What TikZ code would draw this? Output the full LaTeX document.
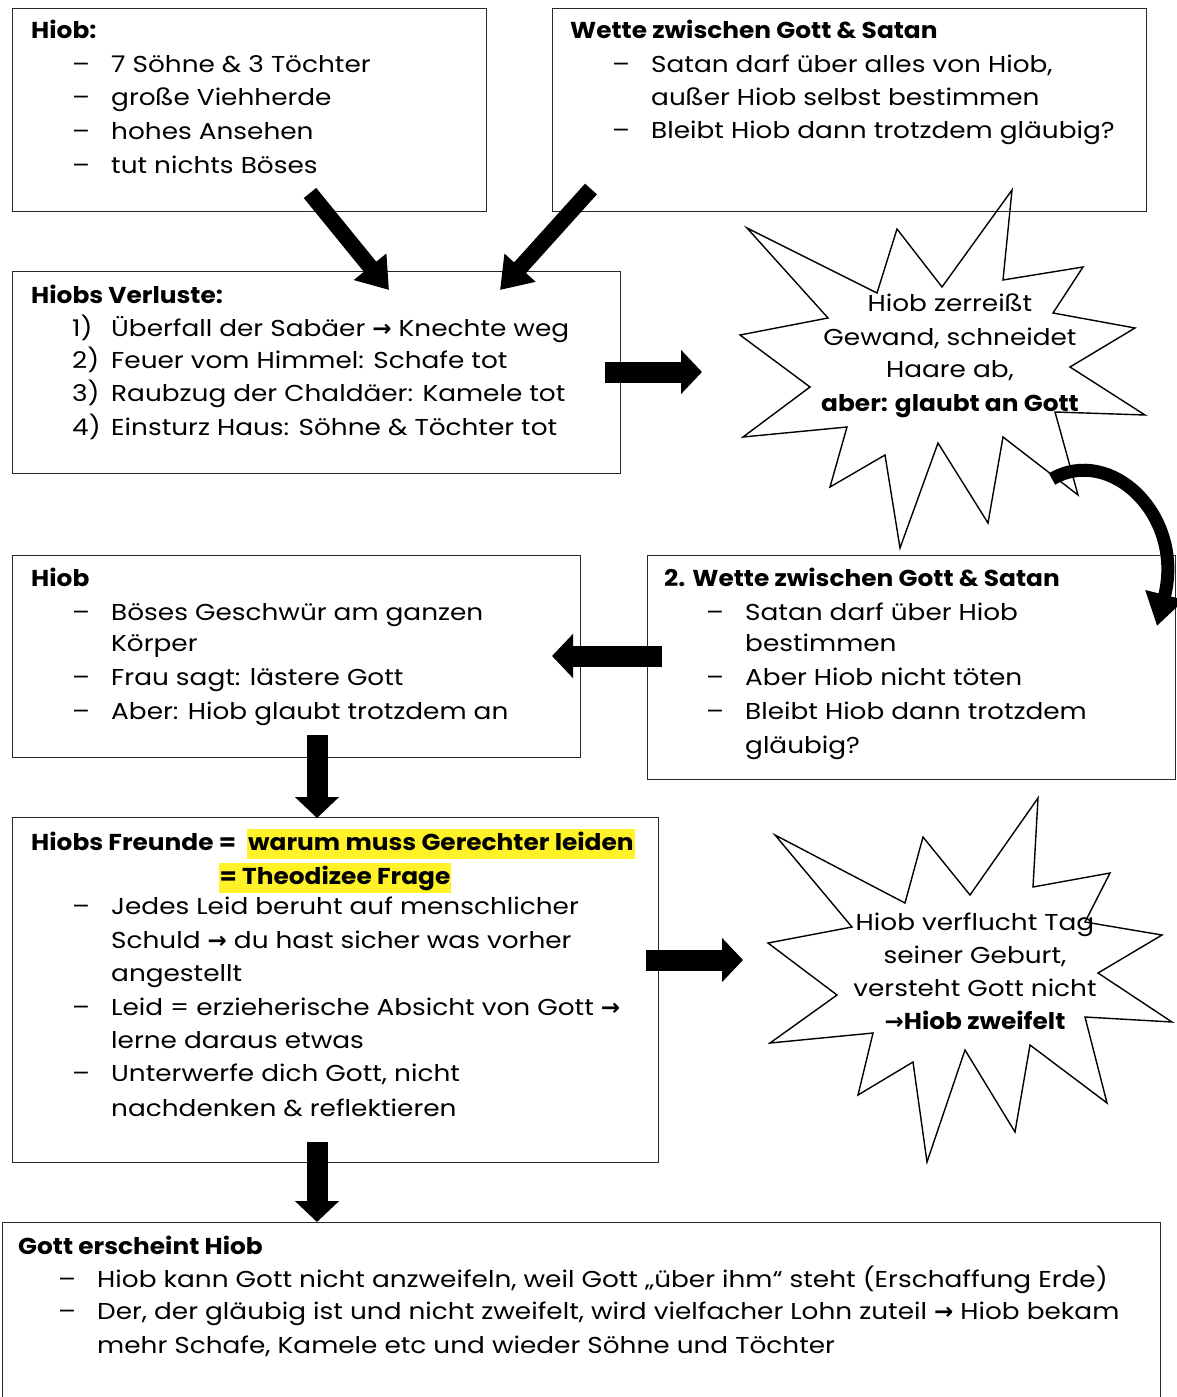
\documentclass[tikz,border=0pt]{standalone}
\usepackage{fontspec}
\setmainfont{Poppins}[UprightFeatures={FakeStretch=1.145},BoldFeatures={FakeStretch=1.08}]
\newfontfamily\arrowfont{DejaVu Sans}[UprightFeatures={FakeStretch=1.1}]
\usetikzlibrary{arrows.meta}
\definecolor{hl}{RGB}{255,242,40}
\definecolor{frame}{RGB}{40,40,40}
\newcommand\ar{{\arrowfont\bfseries →}}
\begin{document}
\begin{tikzpicture}[x=1pt,y=-1pt,
  box/.style={draw=frame,line width=1.4pt,inner sep=0pt,anchor=north west},
  txt/.style={anchor=base west,inner sep=0pt,font=\fontsize{23}{28}\selectfont},
  ctxt/.style={anchor=base,inner sep=0pt,font=\fontsize{23}{28}\selectfont},
  btxt/.style={txt,font=\fontsize{23}{28}\selectfont\bfseries},
  hltxt/.style={anchor=base west,fill=hl,inner xsep=1pt,inner ysep=3pt,text height=18pt,text depth=6pt,font=\fontsize{23}{28}\selectfont\bfseries},
  starshape/.style={draw=black,line width=1.4pt,line join=miter},
  blk/.style={line width=21pt,-{Triangle[length=21pt,width=43pt]}},
  diag/.style={line width=16pt,-{Triangle[length=30pt,width=40pt]}},
]
\useasboundingbox (0,0) rectangle (1177,1397);

% ---------- boxes ----------
\node[box,minimum width=474pt,minimum height=203pt] (b1) at (12,8) {};
\node[box,minimum width=594pt,minimum height=203pt] (b2) at (552,8) {};
\node[box,minimum width=608pt,minimum height=202pt] (b3) at (12,271) {};
\node[box,minimum width=568pt,minimum height=202pt] (b4) at (12,555) {};
\node[box,minimum width=528pt,minimum height=224pt] (b5) at (647,555) {};
\node[box,minimum width=646pt,minimum height=345pt] (b6) at (12,817) {};
\node[box,minimum width=1158pt,minimum height=190pt] (b7) at (2,1222) {};

% ---------- stars ----------
\draw[starshape] (747,228) -- (877,293) -- (897,229) -- (942,287) -- (1012,190) -- (1003,280)
  -- (1083,267) -- (1053,313) -- (1135,328) -- (1070,367) -- (1145,415) -- (1055,412)
  -- (1078,495) -- (1003,437) -- (988,523) -- (938,443) -- (900,548) -- (885,455)
  -- (830,487) -- (847,427) -- (743,437) -- (810,387) -- (740,335) -- (828,318) -- cycle;
\draw[starshape] (775,835) -- (905,903) -- (923,837) -- (970,895) -- (1038,798) -- (1033,887)
  -- (1110,873) -- (1085,922) -- (1162,935) -- (1098,973) -- (1172,1022) -- (1085,1017)
  -- (1107,1103) -- (1030,1045) -- (1015,1132) -- (965,1050) -- (927,1162) -- (913,1062)
  -- (858,1095) -- (873,1033) -- (770,1043) -- (837,995) -- (768,943) -- (852,927) -- cycle;

% ---------- box 1 ----------
\node[btxt] (t1) at (31,39) {Hiob:};
\node[txt] (t1a) at (72,72) {–};  \node[txt] (t1b) at (111,72) {7 Söhne \& 3 Töchter};
\node[txt] (t1c) at (72,105) {–}; \node[txt] (t1d) at (111,105) {große Viehherde};
\node[txt] (t1e) at (72,139) {–}; \node[txt] (t1f) at (111,139) {hohes Ansehen};
\node[txt] (t1g) at (72,173) {–}; \node[txt] (t1h) at (111,173) {tut nichts Böses};

% ---------- box 2 ----------
\node[btxt] (t2) at (570,39) {Wette zwischen Gott \& Satan};
\node[txt] (t2a) at (612,72) {–};  \node[txt] (t2b) at (651,72) {Satan darf über alles von Hiob,};
\node[txt] (t2c) at (651,105) {außer Hiob selbst bestimmen};
\node[txt] (t2d) at (612,138) {–}; \node[txt] (t2e) at (651,138) {Bleibt Hiob dann trotzdem gläubig?};

% ---------- box 3 ----------
\node[btxt] (t3) at (31,303) {Hiobs Verluste:};
\node[txt] (t3a) at (72,336) {1)}; \node[txt] (t3b) at (111,336) {Überfall der Sabäer \ar{} Knechte weg};
\node[txt] (t3c) at (72,368) {2)}; \node[txt] (t3d) at (111,368) {Feuer vom Himmel: Schafe tot};
\node[txt] (t3e) at (72,401) {3)}; \node[txt] (t3f) at (111,401) {Raubzug der Chaldäer: Kamele tot};
\node[txt] (t3g) at (72,435) {4)}; \node[txt] (t3h) at (111,435) {Einsturz Haus: Söhne \& Töchter tot};

% ---------- star 1 text ----------
\node[ctxt] (s1a) at (950,311) {Hiob zerreißt};
\node[ctxt] (s1b) at (950,345) {Gewand, schneidet};
\node[ctxt] (s1c) at (950,377) {Haare ab,};
\node[ctxt,font=\fontsize{23}{28}\selectfont\bfseries] (s1d) at (950,411) {aber: glaubt an Gott};

% ---------- box 4 ----------
\node[btxt] (t4) at (31,586) {Hiob};
\node[txt] (t4a) at (72,620) {–}; \node[txt] (t4b) at (111,620) {Böses Geschwür am ganzen};
\node[txt] (t4c) at (111,651) {Körper};
\node[txt] (t4d) at (72,685) {–}; \node[txt] (t4e) at (111,685) {Frau sagt: lästere Gott};
\node[txt] (t4f) at (72,719) {–}; \node[txt] (t4g) at (111,719) {Aber: Hiob glaubt trotzdem an};

% ---------- box 5 ----------
\node[btxt] (t5) at (664,586) {2. Wette zwischen Gott \& Satan};
\node[txt] (t5a) at (706,620) {–}; \node[txt] (t5b) at (745,620) {Satan darf über Hiob};
\node[txt] (t5c) at (745,651) {bestimmen};
\node[txt] (t5d) at (706,685) {–}; \node[txt] (t5e) at (745,685) {Aber Hiob nicht töten};
\node[txt] (t5f) at (706,719) {–}; \node[txt] (t5g) at (745,719) {Bleibt Hiob dann trotzdem};
\node[txt] (t5h) at (745,753) {gläubig?};

% ---------- box 6 ----------
\node[btxt] (t6) at (31,850) {Hiobs Freunde =};
\node[hltxt] (t6h) at (247,850) {warum muss Gerechter leiden};
\node[hltxt,anchor=base] (t6i) at (335,884) {= Theodizee Frage};
\node[txt] (t6a) at (72,914) {–}; \node[txt] (t6b) at (111,914) {Jedes Leid beruht auf menschlicher};
\node[txt] (t6c) at (111,948) {Schuld \ar{} du hast sicher was vorher};
\node[txt] (t6d) at (111,981) {angestellt};
\node[txt] (t6e) at (72,1015) {–}; \node[txt] (t6f) at (111,1015) {Leid = erzieherische Absicht von Gott \ar};
\node[txt] (t6g) at (111,1048) {lerne daraus etwas};
\node[txt] (t6j) at (72,1081) {–}; \node[txt] (t6k) at (111,1081) {Unterwerfe dich Gott, nicht};
\node[txt] (t6l) at (111,1116) {nachdenken \& reflektieren};

% ---------- star 2 text ----------
\node[ctxt] (s2a) at (975,930) {Hiob verflucht Tag};
\node[ctxt] (s2b) at (975,963) {seiner Geburt,};
\node[ctxt] (s2c) at (975,996) {versteht Gott nicht};
\node[ctxt,font=\fontsize{23}{28}\selectfont\bfseries] (s2d) at (975,1029) {{\arrowfont\bfseries →}Hiob zweifelt};

% ---------- box 7 ----------
\node[btxt] (t7) at (18,1254) {Gott erscheint Hiob};
\node[txt] (t7a) at (58,1287) {–}; \node[txt] (t7b) at (97,1287) {Hiob kann Gott nicht anzweifeln, weil Gott „über ihm“ steht (Erschaffung Erde)};
\node[txt] (t7c) at (58,1319) {–}; \node[txt] (t7d) at (97,1319) {Der, der gläubig ist und nicht zweifelt, wird vielfacher Lohn zuteil \ar{} Hiob bekam};
\node[txt] (t7e) at (97,1353) {mehr Schafe, Kamele etc und wieder Söhne und Töchter};

% ---------- connectors ----------
\coordinate (c1s) at (310,193); \coordinate (c1e) at (389,290);
\coordinate (c2s) at (591,189); \coordinate (c2e) at (500,290);
\coordinate (c3s) at (605,372); \coordinate (c3e) at (702,372);
\coordinate (c4s) at (662,656); \coordinate (c4e) at (552,656);
\coordinate (c5s) at (317,735); \coordinate (c5e) at (317,818);
\coordinate (c6s) at (646,960); \coordinate (c6e) at (743,960);
\coordinate (c7s) at (317,1142); \coordinate (c7e) at (317,1222);
\coordinate (c8s) at (1052,479); \coordinate (c8e) at (1157,626);
\draw[diag] (c1s) -- (c1e);
\draw[diag] (c2s) -- (c2e);
\draw[blk] (c3s) -- (c3e);
\draw[blk] (c4s) -- (c4e);
\draw[blk] (c5s) -- (c5e);
\draw[blk] (c6s) -- (c6e);
\draw[blk] (c7s) -- (c7e);
\draw[line width=13pt,-{Triangle[length=32pt,width=38pt]}] (c8s) .. controls (1110,445) and (1185,515) .. (c8e);
\end{tikzpicture}
\end{document}
